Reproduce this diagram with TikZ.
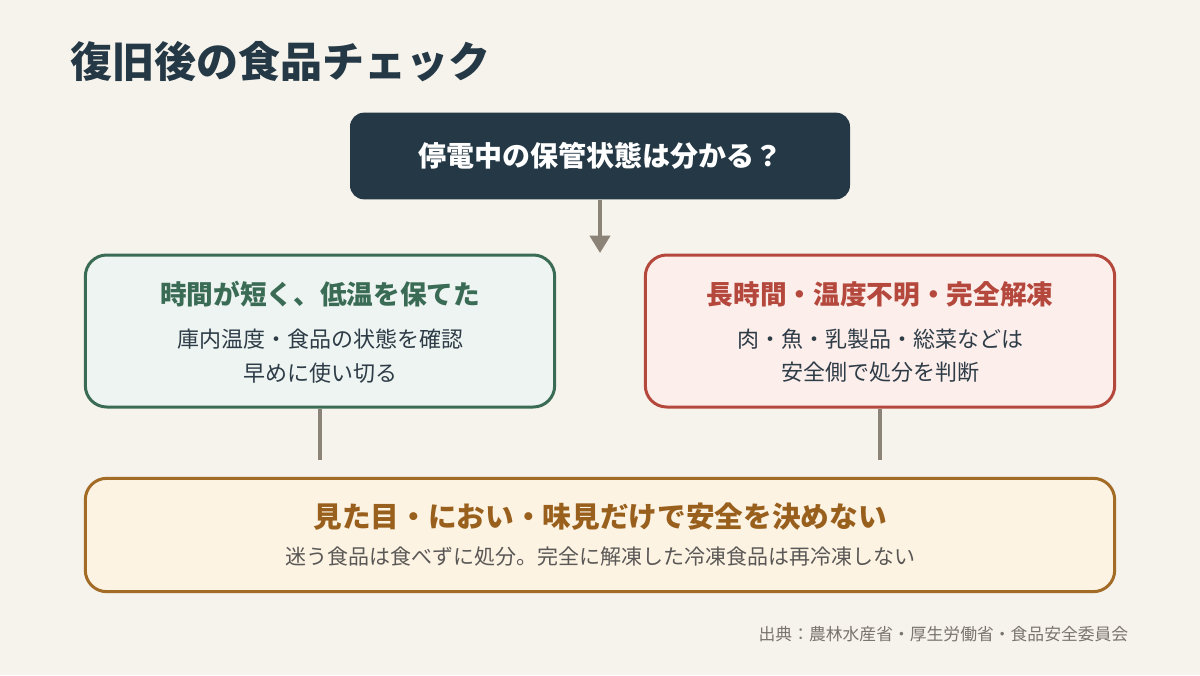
\documentclass[tikz,border=0pt]{standalone}
\usepackage{fontspec}
\setmainfont{Noto Sans CJK JP}
\usetikzlibrary{arrows.meta,positioning}

\definecolor{bgcol}{HTML}{F6F3EC}
\definecolor{inkdark}{HTML}{243845}
\definecolor{textdark}{HTML}{2E3C47}
\definecolor{okline}{HTML}{3A6B55}
\definecolor{okfill}{HTML}{EDF4F1}
\definecolor{ngline}{HTML}{B5483D}
\definecolor{ngfill}{HTML}{FCEEEB}
\definecolor{warnline}{HTML}{A26B26}
\definecolor{warntext}{HTML}{99601D}
\definecolor{warnfill}{HTML}{FDF3E3}
\definecolor{linkgray}{HTML}{8B8378}
\definecolor{notegray}{HTML}{5A5856}
\definecolor{srcgray}{HTML}{7A746E}

\begin{document}
\begin{tikzpicture}[x=0.75pt,y=-0.75pt,
    card/.style={draw, line width=2.25pt, rounded corners=16pt, inner sep=0pt},
    headtxt/.style={font=\fontsize{20}{24}\selectfont\bfseries},
    bodytxt/.style={font=\fontsize{16.5}{25}\selectfont, text=textdark, align=center},
    link/.style={linkgray, line width=2.6pt}]

    % Background
    \fill[bgcol] (0,0) rectangle (1200,675);
    \useasboundingbox (0,0) rectangle (1200,675);

    % Title
    \node[anchor=west, text=inkdark, font=\fontsize{31.5}{36}\selectfont\bfseries]
        (title) at (66,62) {復旧後の食品チェック};

    % Question
    \node[fill=inkdark, rounded corners=10.5pt, minimum width=375pt, minimum height=65pt,
        text=white, font=\fontsize{21}{25}\selectfont\bfseries]
        (question) at (600,156) {停電中の保管状態は分かる？};
    \coordinate (split) at (600,253);
    \draw[link, line width=3pt, -{Triangle[length=13pt,width=15pt]}] (question.south) -- (split);

    % Left: short outage
    \node[card, draw=okline, fill=okfill, minimum width=352pt, minimum height=114pt]
        (short) at (320,331) {};
    \node[headtxt, text=okline] (shorthead) at (320,294) {時間が短く、低温を保てた};
    \node[bodytxt] (shortbody) at (320,356) {庫内温度・食品の状態を確認\\早めに使い切る};

    % Right: long outage
    \node[card, draw=ngline, fill=ngfill, minimum width=352pt, minimum height=114pt]
        (long) at (880,331) {};
    \node[headtxt, text=ngline] (longhead) at (880,294) {長時間・温度不明・完全解凍};
    \node[bodytxt] (longbody) at (880,356) {肉・魚・乳製品・総菜などは\\安全側で処分を判断};

    % Common rule
    \node[card, draw=warnline, fill=warnfill, minimum width=772pt, minimum height=85pt]
        (rule) at (600,535) {};
    \node[text=warntext, font=\fontsize{21.5}{25}\selectfont\bfseries]
        (rulehead) at (600,517) {見た目・におい・味見だけで安全を決めない};
    \node[text=notegray, font=\fontsize{15.75}{19}\selectfont]
        (rulenote) at (600,557) {迷う食品は食べずに処分。完全に解凍した冷凍食品は再冷凍しない};

    % Links down to the rule
    \coordinate (shortend) at (320,460);
    \coordinate (longend) at (880,460);
    \draw[link] (short.south) -- (shortend);
    \draw[link] (long.south) -- (longend);

    % Source
    \node[anchor=east, text=srcgray, font=\fontsize{12.6}{16}\selectfont]
        (source) at (1133,634) {出典：農林水産省・厚生労働省・食品安全委員会};
\end{tikzpicture}
\end{document}
